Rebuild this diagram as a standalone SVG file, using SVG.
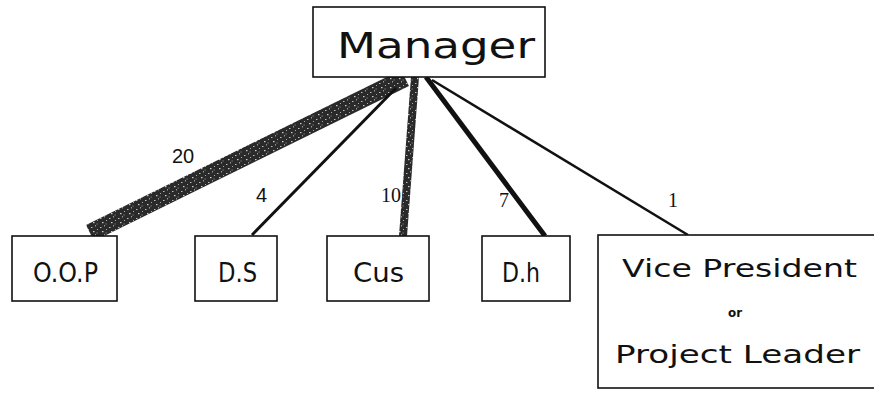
<svg xmlns="http://www.w3.org/2000/svg" width="874" height="400" viewBox="0 0 874 400">
<style>
.box{fill:#fff;stroke:#111;stroke-width:1.6}
.t{font-family:"DejaVu Sans","Liberation Sans",sans-serif;fill:#111}
.lbl{font-family:"Liberation Sans",sans-serif;font-size:20px;fill:#111}
.lbs{font-family:"Liberation Serif",serif;font-size:20px;fill:#111}
.c{fill:none;stroke:#111;stroke-linecap:butt}
</style>
<defs>
<pattern id="speck" width="9" height="9" patternUnits="userSpaceOnUse">
<rect width="9" height="9" fill="#2a2a2a"/>
<rect x="1" y="2" width="1.5" height="1" fill="#bbb"/>
<rect x="5" y="0" width="1" height="1.5" fill="#999"/>
<rect x="3" y="6" width="1.5" height="1.2" fill="#ccc"/>
<rect x="7" y="4" width="1" height="1" fill="#aaa"/>
<rect x="6.5" y="7.5" width="1.2" height="1" fill="#888"/>
</pattern>
</defs>
<g id="connectors">
<line class="c" x1="405" y1="78" x2="90" y2="233" stroke="url(#speck)" style="stroke:url(#speck);stroke-width:18"/>
<line class="c" x1="396" y1="88" x2="252" y2="235" style="stroke-width:3"/>
<line class="c" x1="415" y1="77" x2="403" y2="236" style="stroke:url(#speck);stroke-width:8"/>
<line class="c" x1="426" y1="77" x2="545" y2="236" style="stroke-width:5"/>
<line class="c" x1="432" y1="80" x2="688" y2="235" style="stroke-width:2.5"/>
<text class="lbl" x="172" y="163">20</text>
<text class="lbl" x="256" y="202">4</text>
<text class="lbs" x="381" y="202">10</text>
<text class="lbs" x="499" y="207">7</text>
<text class="lbs" x="668" y="207">1</text>
</g>
<g id="manager">
<rect class="box" x="313" y="7" width="232" height="70"/>
<text class="t" x="337" y="58" font-size="36" textLength="198" lengthAdjust="spacingAndGlyphs">Manager</text>
</g>
<g id="oop">
<rect class="box" x="12" y="236" width="105" height="65"/>
<text class="t" x="33" y="282" font-size="27" textLength="65" lengthAdjust="spacingAndGlyphs">O.O.P</text>
</g>
<g id="ds">
<rect class="box" x="195" y="236" width="82" height="65"/>
<text class="t" x="218" y="282" font-size="27" textLength="39" lengthAdjust="spacingAndGlyphs">D.S</text>
</g>
<g id="cus">
<rect class="box" x="327" y="236" width="102" height="65"/>
<text class="t" x="353" y="282" font-size="27" textLength="51" lengthAdjust="spacingAndGlyphs">Cus</text>
</g>
<g id="dh">
<rect class="box" x="482" y="236" width="88" height="65"/>
<text class="t" x="502" y="282" font-size="27" textLength="38" lengthAdjust="spacingAndGlyphs">D.h</text>
</g>
<g id="vp">
<rect class="box" x="598" y="235" width="290" height="153"/>
<text class="t" x="622" y="277" font-size="25" textLength="235" lengthAdjust="spacingAndGlyphs">Vice President</text>
<text class="t" x="728" y="317" font-size="12" font-weight="bold" textLength="14" lengthAdjust="spacingAndGlyphs">or</text>
<text class="t" x="615" y="363" font-size="25" textLength="245" lengthAdjust="spacingAndGlyphs">Project Leader</text>
</g>
</svg>
